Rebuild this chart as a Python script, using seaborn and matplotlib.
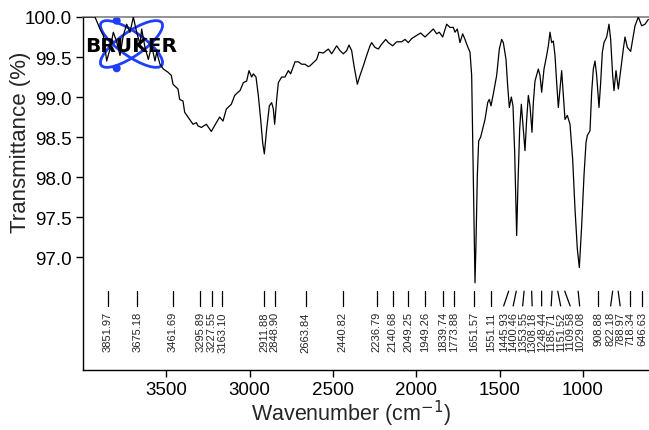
import numpy as np
import pandas as pd
import matplotlib
matplotlib.use("Agg")
import matplotlib.pyplot as plt
import seaborn as sns
from matplotlib.patches import Ellipse, Circle
from matplotlib.transforms import IdentityTransform

# ---------------- data ----------------
wavenumber = [3998, 3958, 3928, 3898, 3878, 3858, 3838, 3818, 3798, 3778, 3758, 3738, 3718, 3698,
              3678, 3658, 3648, 3628, 3608, 3588, 3568, 3558, 3538, 3518, 3490, 3470, 3460, 3430,
              3420, 3400, 3390, 3370, 3340, 3320, 3310, 3290, 3260, 3230, 3200, 3180, 3160, 3140,
              3110, 3090, 3070, 3058, 3038, 3018, 3004, 2988, 2978, 2962, 2948, 2934, 2922, 2912,
              2898, 2882, 2868, 2858, 2850, 2838, 2828, 2808, 2788, 2768, 2754, 2728, 2708, 2688,
              2668, 2648, 2638, 2618, 2598, 2584, 2558, 2528, 2508, 2478, 2458, 2438, 2418, 2404,
              2388, 2374, 2354, 2338, 2318, 2298, 2278, 2268, 2248, 2228, 2208, 2184, 2168, 2142,
              2118, 2088, 2068, 2048, 2028, 1998, 1974, 1948, 1928, 1898, 1878, 1862, 1842, 1818,
              1798, 1778, 1768, 1754, 1738, 1722, 1708, 1694, 1678, 1668, 1660, 1654, 1648, 1642,
              1634, 1626, 1614, 1602, 1588, 1572, 1562, 1552, 1538, 1518, 1502, 1488, 1478, 1462,
              1452, 1442, 1430, 1420, 1410, 1398, 1390, 1380, 1370, 1358, 1348, 1338, 1328, 1318,
              1306, 1298, 1288, 1268, 1258, 1248, 1234, 1218, 1208, 1198, 1188, 1178, 1168, 1158,
              1148, 1138, 1128, 1118, 1108, 1094, 1078, 1062, 1048, 1034, 1022, 1008, 994, 982,
              974, 958, 948, 938, 928, 918, 904, 894, 884, 874, 858, 844, 834, 822, 814, 802, 788,
              772, 758, 748, 734, 714, 698, 688, 668, 648, 628, 608]
transmittance = [100.0, 100.0, 100.0, 99.85, 99.77, 99.45, 99.60, 99.81, 99.69, 99.52, 99.77, 99.91, 99.81, 100.0,
                 99.81, 99.66, 99.85, 99.62, 99.47, 99.64, 99.45, 99.56, 99.41, 99.35, 99.31, 99.27, 99.16, 99.10,
                 98.97, 98.95, 98.81, 98.75, 98.66, 98.68, 98.64, 98.62, 98.66, 98.57, 98.68, 98.75, 98.70, 98.85,
                 98.91, 99.02, 99.06, 99.08, 99.18, 99.20, 99.33, 99.25, 99.29, 99.25, 99.02, 98.72, 98.43, 98.29,
                 98.60, 98.89, 98.93, 98.85, 98.66, 98.97, 99.18, 99.25, 99.25, 99.33, 99.29, 99.44, 99.44, 99.41,
                 99.41, 99.38, 99.39, 99.43, 99.47, 99.56, 99.55, 99.60, 99.54, 99.64, 99.58, 99.54, 99.58, 99.65,
                 99.58, 99.39, 99.16, 99.27, 99.39, 99.52, 99.64, 99.68, 99.62, 99.60, 99.66, 99.72, 99.68, 99.64,
                 99.69, 99.69, 99.72, 99.68, 99.73, 99.77, 99.80, 99.75, 99.79, 99.85, 99.79, 99.81, 99.75, 99.91,
                 99.87, 99.87, 99.81, 99.85, 99.68, 99.79, 99.72, 99.64, 99.56, 99.27, 98.22, 97.39, 96.68, 97.18,
                 98.02, 98.45, 98.50, 98.60, 98.72, 98.93, 98.97, 98.89, 99.04, 99.27, 99.60, 99.72, 99.68, 99.47,
                 99.14, 98.87, 99.00, 98.89, 98.31, 97.27, 97.93, 98.60, 98.91, 98.60, 98.33, 98.72, 99.02, 98.89,
                 98.56, 98.93, 99.20, 99.35, 99.27, 99.06, 99.35, 99.52, 99.64, 99.81, 99.68, 99.70, 99.52, 99.18,
                 98.87, 99.10, 99.33, 99.02, 98.72, 98.77, 98.66, 98.22, 97.60, 97.10, 96.87, 97.39, 98.02, 98.43,
                 98.52, 98.58, 99.06, 99.35, 99.45, 99.27, 98.87, 99.18, 99.56, 99.68, 99.75, 99.91, 99.72, 99.27, 99.08, 99.33, 99.10,
                 99.37, 99.60, 99.75, 99.62, 99.57, 99.77, 99.89, 100.0, 99.89, 99.91, 99.97]

peak_positions = [3851.97, 3675.18, 3461.69, 3295.89, 3227.55, 3163.10, 2911.88, 2848.90, 2663.84,
                  2440.82, 2236.79, 2140.68, 2049.25, 1949.26, 1839.74, 1773.88, 1651.57, 1551.11,
                  1445.93, 1400.46, 1353.55, 1308.18, 1248.44, 1185.71, 1151.52, 1109.58, 1029.08,
                  908.88, 822.18, 788.97, 718.34, 646.63]
peak_labels = ["3851.97", "3675.18", "3461.69", "3295.89", "3227.55", "3163.10", "2911.88", "2848.90",
               "2663.84", "2440.82", "2236.79", "2140.68", "2049.25", "1949.26", "1839.74", "1773.88",
               "1651.57", "1551.11", "1445.93", "1400.46", "1353.55", "1308.18", "1248.44", "1185.71",
               "1151.52", "1109.58", "1029.08", "908.88", "822.18", "788.97", "718.34", "646.63"]

x_ticks = [3500, 3000, 2500, 2000, 1500, 1000]
y_ticks = [97.0, 97.5, 98.0, 98.5, 99.0, 99.5, 100.0]

# ---------------- style ----------------
sns.set_style("ticks")
plt.rcParams["font.family"] = ["Liberation Sans", "DejaVu Sans"]

W, H = 649, 431
fig = plt.figure(figsize=(W / 100, H / 100), dpi=100)
ax = fig.add_axes([83 / W, (H - 371) / H, 566 / W, 353 / H])

df = pd.DataFrame({"Wavenumber": wavenumber, "Transmittance": transmittance})
sns.lineplot(data=df, x="Wavenumber", y="Transmittance", ax=ax, color="black",
             linewidth=0.9, estimator=None, sort=False, zorder=3)

ax.set_xlim(4000, 604)
ax.set_ylim(95.59, 100.0)
ax.set_xticks(x_ticks)
ax.set_xticklabels([str(t) for t in x_ticks])
ax.set_yticks(y_ticks)
ax.set_yticklabels([f"{t:.1f}" for t in y_ticks])
ax.tick_params(direction="out", length=5, width=1, labelsize=13.5, colors="black", pad=3)

for side in ["left", "bottom"]:
    ax.spines[side].set_color("black")
    ax.spines[side].set_linewidth(1.0)
ax.spines["top"].set_color("#808080")
ax.spines["top"].set_linewidth(1.2)
ax.spines["right"].set_visible(False)

ax.set_xlabel("Wavenumber (cm$^{-1}$)", fontsize=15.5, va="center")
ax.xaxis.set_label_coords((351 - 83) / 566, -(414 - 371) / 353)
ax.set_ylabel("Transmittance (%)", fontsize=16, va="center")
ax.yaxis.set_label_coords((20 - 83) / 566, (371 - 142) / 353)

# ---------------- peak annotations ----------------
order = np.argsort(peak_positions)[::-1]
pos = [peak_positions[i] for i in order]
text_pos = list(pos)
min_gap = 57.0
for _ in range(1000):
    for i in range(len(text_pos) - 1):
        gap = text_pos[i] - text_pos[i + 1]
        if gap < min_gap:
            s = (min_gap - gap) / 2
            text_pos[i] += s
            text_pos[i + 1] -= s

lab_family = ["Liberation Sans Narrow", "Liberation Sans", "DejaVu Sans"]
y_top, y_bot, y_text = 96.575, 96.39, 96.325
for k, i in enumerate(order):
    xt = text_pos[k]
    xp = peak_positions[i]
    ax.plot([xp, xt], [y_top, y_bot], color="black", lw=0.9)
    ax.text(xt, y_text, peak_labels[i], rotation=90, ha="center", va="top",
            fontsize=8, family=lab_family)

# ---------------- logo ----------------
blue = "#1f3fff"
cx, cy = 131.5, H - 45
for ang in (35, -35):
    e = Ellipse((cx, cy), 74, 24, angle=ang, transform=IdentityTransform(),
                fill=False, ec=blue, lw=2.0, zorder=1, clip_on=False)
    ax.add_patch(e)
for (px, py) in [(116.7, H - 21.7), (116.7, H - 69.3)]:
    ax.add_patch(Circle((px, py), 3.3, transform=IdentityTransform(), color=blue,
                        zorder=1, clip_on=False))
fig.text(131.5 / W, (H - 46) / H, "BRUKER", ha="center", va="center", fontsize=14.5,
         fontweight="heavy", family="DejaVu Sans", color="black", zorder=5)

fig.savefig("out.png", dpi=100)
